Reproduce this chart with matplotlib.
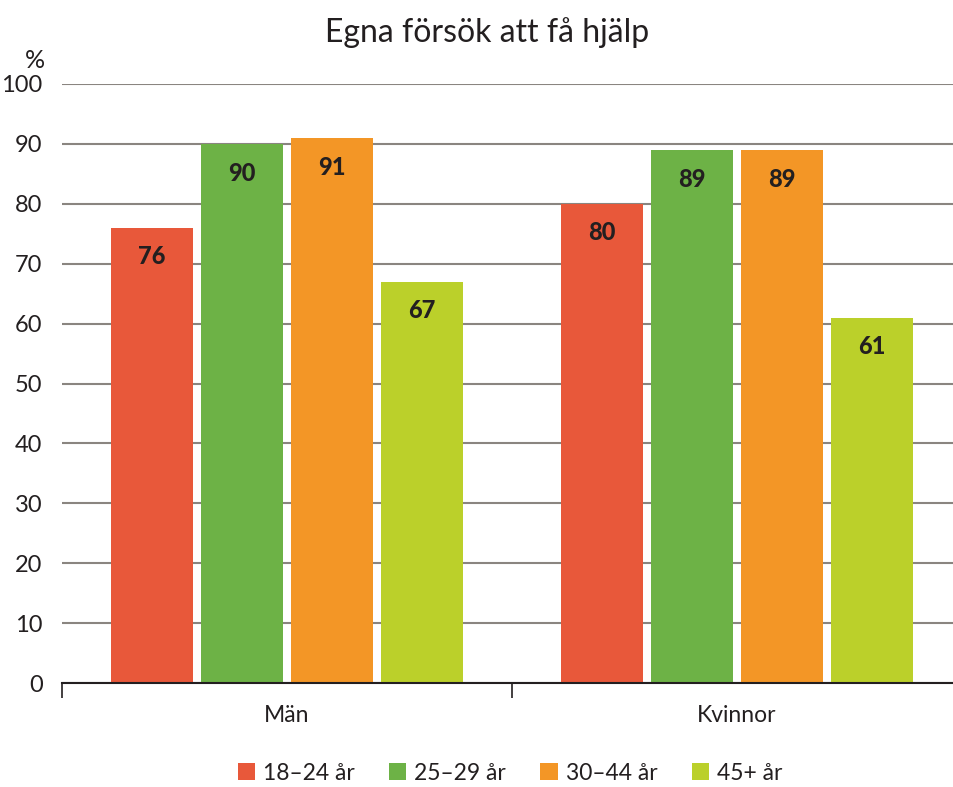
import matplotlib.pyplot as plt
import numpy as np

plt.rcParams['font.family'] = ['Lato', 'DejaVu Sans']

# data
groups = ['Män', 'Kvinnor']
ages = ['18–24 år', '25–29 år', '30–44 år', '45+ år']
values = {
    '18–24 år': [76, 80],
    '25–29 år': [90, 89],
    '30–44 år': [91, 89],
    '45+ år': [67, 61],
}
colors = ['#E8583A', '#6DB246', '#F39626', '#BBD02A']
yticks = list(range(0, 101, 10))

fig = plt.figure(figsize=(9.54, 7.87), dpi=100)
ax = fig.add_axes([62 / 954, 104 / 787, 900 / 954, 599 / 787])

centers = np.arange(len(groups)) + 0.5
step = 0.2
width = 82 / 450
for i, age in enumerate(ages):
    x = centers + (i - 1.5) * step
    bars = ax.bar(x, values[age], width=width, color=colors[i], zorder=3, label=age)
    for b, v in zip(bars, values[age]):
        ax.annotate(str(v), (b.get_x() + b.get_width() / 2, v), xytext=(0, -21),
                    textcoords='offset points', ha='center', va='center',
                    fontsize=17, fontweight='black', color='#231f20', zorder=4)

ax.set_xlim(0, 2)
ax.set_ylim(0, 100)
ax.set_yticks(yticks)
ax.set_yticklabels([str(t) for t in yticks], fontsize=17, color='#231f20')
ax.tick_params(axis='y', length=0, pad=14)
ax.grid(axis='y', color='#8a8580', linewidth=1.5, zorder=0)

# category boundary ticks and centred labels
ax.set_xticks([0, 1, 2])
ax.set_xticklabels(['', '', ''])
ax.tick_params(axis='x', which='major', length=11, width=1.2, color='#231f20', direction='out')
ax.set_xticks(centers, minor=True)
ax.set_xticklabels(groups, minor=True, fontsize=16.5, color='#231f20')
ax.tick_params(axis='x', which='minor', length=0, pad=16)

for s in ['left', 'right', 'top']:
    ax.spines[s].set_visible(False)
ax.spines['bottom'].set_color('#231f20')
ax.spines['bottom'].set_linewidth(1.5)
ax.spines['bottom'].set_zorder(5)

ax.text(-0.019, 1.04, '%', transform=ax.transAxes, ha='right', va='center',
        fontsize=18, color='#231f20')
fig.text(487 / 954, 1 - 33 / 787, 'Egna försök att få hjälp', ha='center', va='center',
         fontsize=23, color='#231f20')

fig.legend(loc='center', bbox_to_anchor=(510 / 954, 1 - 773 / 787), ncol=4,
           frameon=False, fontsize=16.5, handlelength=0.75, handleheight=0.75,
           handletextpad=0.35, columnspacing=1.5, labelcolor='#231f20')

fig.savefig('out.png', dpi=100)
